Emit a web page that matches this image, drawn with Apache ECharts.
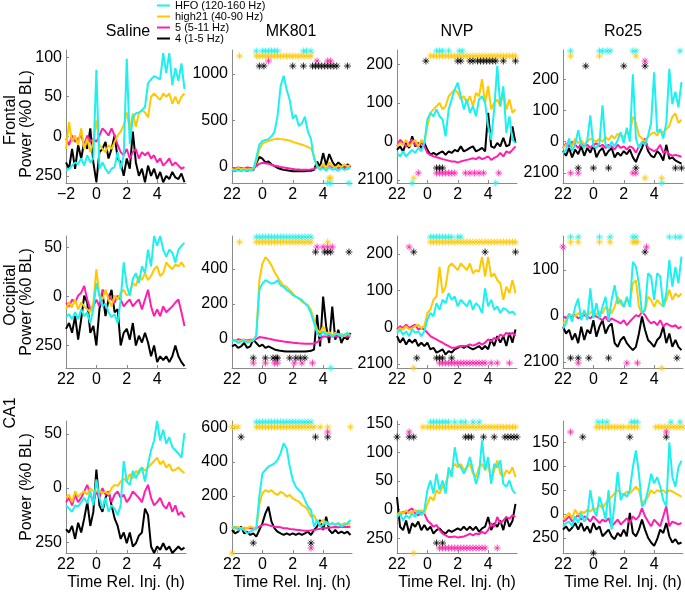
<!DOCTYPE html>
<html><head><meta charset="utf-8">
<script src="https://cdn.jsdelivr.net/npm/echarts@6/dist/echarts.min.js"></script>
<style>html,body{margin:0;padding:0;background:#fff}#c{width:685px;height:592px}</style>
</head><body><div id="c"></div>
<script>
// ---------- shared axes / labels ----------
const T = [-2,-1.8,-1.6,-1.4,-1.2,-1,-0.8,-0.6,-0.4,-0.2,0,0.2,0.4,0.6,0.8,1,1.2,1.4,1.6,1.8,2,2.2,2.4,2.6,2.8,3,3.2,3.4,3.6,3.8,4,4.2,4.4,4.6,4.8,5,5.2,5.4,5.6,5.8];
const seriesNames = ['HFO (120-160 Hz)','high21 (40-90 Hz)','5 (5-11 Hz)','4 (1-5 Hz)'];
const colTitles = ['Saline','MK801','NVP','Ro25'];
const rowNames = ['Frontal','Occipital','CA1'];
const yName = 'Power (%0 BL)';
const xName = 'Time Rel. Inj. (h)';
const xTicks = [-2,0,2,4];
const yTicksFrontal = [[-50,0,50,100],[0,500,1000],[-100,0,100,200],[-100,0,100,200]];
const yTicksOccipital = [[-50,0,50],[0,200,400],[-100,0,100,200],[-100,0,100]];
const yTicksCA1 = [[-50,0,50],[0,200,400,600],[-50,0,50,100,150],[-50,0,50,100,150]];

// ---------- Frontal ----------
const fSal_HFO = [-43,-41,-37,-33,-35,-28,-37,-24,-33,-28, 84,-41,-33,-41,-47,-41,-39,-20,-41,-24, 98,-10,24,29,30,33,37,67,72,76, 74,72,105,80,105,65,86,70,92,60];
const fSal_HI  = [-16,18,-7,1,-11,10,-16,-3,-20,-7, 20,-11,-16,-20,-11,-16,-7,1,6,14, 30,8,29,12,29,33,30,24,50,54, 50,46,54,50,54,41,50,41,50,54];
const fSal_5   = [-3,-11,1,-7,-3,1,-11,1,-7,-3, -7,1,10,6,1,10,1,-11,-20,-24, -16,-28,-20,-16,-28,-20,-24,-20,-28,-24, -33,-28,-37,-33,-28,-37,-33,-37,-41,-39];
const fSal_4   = [-33,-41,-16,-41,-11,-28,-7,-16,10,-33, -58,-20,-16,-7,-28,-16,1,-28,-33,-50, -28,-41,6,-33,-50,-41,-58,-37,-50,-41, -54,-45,-58,-50,-54,-45,-52,-54,-47,-58];
const fMK_HFO = [-30,-40,-35,-45,-30,-40,-35,-30, 100,240,280,290,300,330,380,550,870,980,830,720,520,560,440,470,540,380,300,90,10,-30,-10,-40,0,-30,-20,-40,-10,-30,-20,0];
const fMK_HI  = [-20,-30,-10,-25,-15,-30,-20,-25, 60,190,250,270,280,290,300,305,300,295,290,285,270,260,250,240,230,215,200,120,10,-10,40,-20,50,10,-10,20,0,30,10,20];
const fMK_5   = [-10,-15,-5,-10,-15,-5,-10,-15, 10,35,45,40,35,25,15,10,0,-5,-10,-15,-20,-25,-25,-30,-30,-30,-25,-20,0,-10,0,-15,10,-5,5,-10,0,-5,10,0];
const fMK_4   = [-30,-40,-25,-35,-30,-40,-30,-35, 40,110,90,50,60,30,10,-10,-20,-30,-35,-40,-45,-45,-45,-45,-45,-40,-40,-30,60,0,150,20,140,60,10,50,20,-10,30,0];
const fNVP_HFO = [-30,-39,-26,-39,-30,-22,-30,-17,-26,-4, 57,74,65,83,65,57,13,83,109,135, 152,117,83,109,74,91,65,109,117,100, 39,4,83,196,91,143,22,65,4,-4];
const fNVP_HI  = [-13,-4,-9,4,-13,-4,4,-13,4,-4, 39,74,83,91,100,83,91,117,126,135, 126,109,117,100,117,91,126,117,161,100, 143,83,100,109,91,126,83,109,74,83];
const fNVP_5   = [-13,4,-4,-13,-4,4,-9,-13,-4,-13, -30,-35,-39,-41,-43,-46,-48,-50,-52,-52, -55,-52,-50,-48,-46,-44,-46,-41,-46,-43, -39,-48,-43,-39,-30,-39,-26,-30,-22,-13];
const fNVP_4   = [-22,-13,-26,-4,-17,13,-13,-4,-17,-4, -22,-35,-30,-35,-30,-26,-35,-26,-30,-22, -26,-13,-26,-22,-17,-13,-26,-22,-17,-26, 74,-13,-17,-4,-13,9,-13,-9,39,-4];
const fRo_HFO = [-37,-26,10,-30,-10,37,-10,-20,5,84, -15,-20,-5,116,-10,-20,0,-15,5,30, -5,45,0,215,10,-20,0,-10,20,60, 222,30,40,10,60,233,120,160,110,190];
const fRo_HI  = [-20,-10,0,-15,10,-5,5,-10,0,10, 5,0,10,0,15,5,20,10,25,20, 15,30,25,80,60,20,10,0,15,25, 30,20,35,30,40,50,80,90,60,70];
const fRo_5   = [-20,-5,-15,0,-10,-20,-5,-15,-10,-20, -10,-5,-15,-10,-20,-10,-15,-25,-10,-20, -15,-25,-15,-20,-35,-15,-5,10,-20,-25, -30,-25,-10,-35,-30,-40,-45,-42,-45,-48];
const fRo_4   = [-30,-45,-20,-50,-25,-40,-15,-45,-20,-35, -10,-50,-30,-20,-45,-30,-20,-50,-35,-45, -30,-40,-25,-50,-65,-40,-20,5,-30,-45, -50,-30,-40,-60,-10,-55,-50,-60,-65,-70];

// ---------- Occipital ----------
const oSal_HFO = [-21,-18,-23,-16,-23,-13,-20,-16,-27,-13, 14,1,-10,-7,-16,-21,-18,-27,-3,35, 11,1,18,24,14,31,24,48,31,62, 52,62,48,41,48,45,35,48,52,55];
const oSal_HI  = [-13,-6,-11,-3,-13,-6,-10,-13,-16,-6, 28,1,-3,7,-3,-10,1,-3,4,7, 1,4,14,11,21,17,24,17,21,28, 31,21,24,35,31,28,33,31,35,30];
const oSal_5   = [-6,-10,-3,-6,1,4,11,-3,-13,-10, -3,-10,7,4,1,-3,-6,1,-3,-10, -6,-3,-10,-6,-3,-13,-3,7,-10,-20, -13,-20,-10,-16,-13,-10,-6,-3,-16,-30];
const oSal_4   = [-33,-27,-37,-20,-44,-23,1,-6,-37,-30, -50,-13,4,-20,-3,7,-16,-13,-50,-37, -33,-44,-27,-50,-40,-47,-37,-47,-61,-50, -67,-61,-65,-61,-67,-61,-50,-61,-67,-71];
const oMK_HFO = [-13,-8,-23,-15,-10,-20,-15,-10, 20,280,317,336,326,317,320,336,307,298,280,270,251,242,232,223,204,185,147,91,34,15,43,20,30,15,25,30,15,25,35,15];
const oMK_HI  = [-10,-5,-15,-10,-5,-15,-10,-5, 20,336,430,468,449,421,383,355,326,307,298,280,260,242,232,213,204,194,166,110,53,34,72,30,40,20,35,25,30,15,30,20];
const oMK_5   = [-4,-8,-2,-6,-4,-8,-5,-3, 0,11,8,5,2,-2,-6,-9,-12,-15,-17,-19,-21,-23,-25,-26,-27,-28,-27,-26,-19,-4,15,12,18,14,16,12,18,15,17,14];
const oMK_4   = [-42,-32,-51,-42,-23,-51,-42,-4,-23,-42, -32,-51,-42,-51,-60,-64,-68,-70,-72,-72, -72,-72,-72,-72,-72,-70,-68,-60,138,-42, 242,72,-23,185,-4,53,-23,15,-4,34];
const oNVP_HFO = [-15,-6,-20,-11,-24,-6,-15,-11,-24,-11, 21,39,30,66,48,75,66,93,75,84, 57,75,66,57,75,48,66,57,39,106, 57,75,48,57,39,52,48,39,43,34];
const oNVP_HI  = [-11,-2,-6,3,-6,-2,3,7,-2,3, 39,48,75,84,165,93,111,165,174,165, 156,174,165,156,174,147,156,152,192,138, 192,138,147,129,120,75,111,93,129,93];
const oNVP_5   = [-6,3,-2,7,-2,3,7,-6,-2,-6, -15,-24,-29,-33,-38,-42,-47,-51,-56,-56, -53,-51,-51,-50,-47,-50,-47,-42,-47,-42, -33,-38,-29,-33,-20,-24,-15,-20,-15,-24];
const oNVP_4   = [-24,-42,-29,-47,-33,-42,-33,-51,-42,-51, -42,-60,-56,-69,-65,-60,-74,-65,-69,-60, -56,-51,-56,-51,-56,-60,-56,-51,-60,-51, -60,-33,-51,-24,-42,-24,-51,-15,-42,-6];
const oRo_HFO = [-27,-16,6,-12,20,38,-9,13,-9,60, -5,28,-5,20,42,-10,35,67,27,35, 20,42,20,118,107,71,6,13,93,86, 35,93,86,20,49,122,64,107,71,129];
const oRo_HI  = [-16,-9,-1,3,-1,6,3,9,3,6, 13,3,9,6,20,13,6,20,42,27, 20,35,27,71,78,20,6,13,42,35, 20,35,27,20,35,57,35,49,42,49];
const oRo_5   = [-1,-5,2,-1,2,-5,-1,2,-1,-5, 2,-1,-5,-9,-1,-12,-5,-9,-12,-16, -9,-20,-12,-5,2,-1,9,2,-9,-16, -12,-20,-9,-23,-16,-20,-23,-20,-27,-23];
const oRo_4   = [-23,-38,-30,-52,-38,-59,-23,-52,-30,-38, -9,-45,-23,-9,-38,-23,-16,-59,-67,-52, -45,-59,-67,-74,-67,-38,-1,-30,-52,-59, -67,-52,-45,-23,-59,-38,-67,-52,-67,-74];

// ---------- CA1 ----------
const cSal_HFO = [-16,-19,-22,-16,-17,-13,-9,-14,-3,-16, 8,-9,-19,-9,-22,-16,-19,-25,-16,25, 6,3,16,9,16,19,6,22,35,44, 62,44,54,41,47,38,35,32,28,51];
const cSal_HI  = [-9,-6,-13,-3,-8,-5,-3,-6,0,-3, -3,-2,-5,-3,-6,0,3,2,6,9, 6,13,9,16,13,19,16,19,22,25, 28,22,25,19,22,16,17,19,16,14];
const cSal_5   = [-13,-9,-16,-6,-13,-9,-3,3,-6,-13, -3,-9,0,-6,-3,-13,-6,-3,-9,-6, -13,-9,-3,-6,-9,-13,-3,3,-9,-16, -13,-9,-16,-19,-13,-22,-16,-25,-22,-27];
const cSal_4   = [-38,-41,-35,-47,-32,-41,-28,-13,-35,-22, 17,-16,-22,-9,-3,-16,-28,-35,-47,-41, -51,-41,-54,-51,-44,-41,-19,-25,-54,-60, -54,-57,-51,-57,-54,-60,-57,-54,-57,-55];
const cMK_HFO = [10,20,0,10,0,-20,-10,0,10,200, 333,353,373,382,392,412,451,510,480,373, 294,255,235,216,176,137,118,20,59,20, 30,50,30,40,30,40,20,30,40,60];
const cMK_HI  = [20,10,20,10,15,10,20,15,0,150, 216,235,225,235,216,206,225,216,196,206, 186,176,167,147,137,118,78,88,49,40, 59,40,30,40,30,40,30,40,30,40];
const cMK_5   = [16,10,12,8,10,12,10,8,10,20, 29,35,29,24,20,18,16,10,10,6, 4,2,0,-2,-4,-4,-2,0,4,8, 10,12,14,16,18,16,18,20,18,20];
const cMK_4   = [0,-20,-10,20,-20,-10,-29,-20,-39,0, 39,98,137,49,10,-10,-20,-29,-20,-29, -20,-29,-20,-29,-20,-10,-29,0,20,59, 0,78,0,-20,0,-20,-10,-20,-10,-29];
const cNVP_HFO = [-13,-7,-19,-10,-15,-7,-13,-1,-10,-1, 34,51,28,63,34,51,28,74,57,109, 80,74,63,74,92,69,45,63,121,69, 92,45,80,74,86,45,40,51,34,28];
const cNVP_HI  = [-10,-4,-7,-1,-7,-4,-1,-4,-1,-7, 10,22,16,34,28,40,45,63,69,80, 74,80,69,74,80,63,57,74,80,69, 80,51,69,86,63,57,69,63,74,57];
const cNVP_5   = [-7,-10,-4,-7,-1,2,-7,-10,-4,-7, -19,-24,-30,-27,-36,-42,-45,-48,-48,-47, -49,-48,-47,-45,-42,-45,-42,-43,-39,-42, -36,-24,-30,-13,-24,-19,-13,-16,-10,-13];
const cNVP_4   = [22,-30,-36,-19,-42,-24,-30,-21,-36,-27, -36,-30,-42,-36,-33,-39,-42,-36,-39,-36, -33,-36,-30,-36,-30,-36,-30,-39,-33,-30, -13,-36,-24,-30,-19,-36,-13,-30,-20,10];
const cRo_HFO = [-26,-19,-16,-26,-5,-19,2,-16,-5,50, 10,-5,36,16,-12,50,-33,23,88,29, 43,36,50,98,133,84,16,23,50,84, 64,77,57,29,16,150,77,57,98,112];
const cRo_HI  = [-12,-5,2,-9,9,-2,5,2,9,5, 12,9,19,12,22,29,36,43,50,43, 40,47,43,50,57,50,22,29,36,50, 43,50,47,50,43,50,47,43,40,36];
const cRo_5   = [-16,-12,-5,-16,-9,-2,-12,-5,-9,-16, -5,-12,-19,-12,-16,-9,-26,-19,-12,-22, -16,-9,-19,-5,-12,-5,12,-5,-16,-26, -12,-19,-26,-5,16,-26,-16,-19,-22,-19];
const cRo_4   = [-33,-26,-36,-29,-19,-33,-19,-36,-26,-40, -19,-33,-26,-47,-40,-33,-47,-53,-40,-47, -33,-47,2,-40,-47,-33,-12,-33,-50,-60, -67,-53,-33,-40,-19,-47,-60,-53,-63,-60];

// ---------- significance asterisks (times, h) : [HFO, high21, 5, 4] ----------
const fSal_starsTop = [[],[],[],[]];
const fSal_starsBot = [[],[],[],[]];
const fMK_starsTop = [[-0.4,0,0.2,0.4,0.6,0.8,1,2.7,2.9,3.2],[-1.5,-0.4,-0.2,0,0.2,0.4,0.6,0.8,1,1.2,1.4,1.6,1.8,2,2.2,2.4,2.6,2.8,3,3.2],[0.4,3.6,4.3,4.5],[-0.2,0.1,2,2.7,3.3,3.5,3.7,3.9,4.1,4.3,4.5,4.7,4.9,5.6]];
const fMK_starsBot = [[4.3,4.5,5.7],[4.4,4.5],[],[]];
const fNVP_starsTop = [[0.6,0.8,1,1.4,2.1,2.3],[0.2,0.4,0.6,0.8,1,1.2,1.4,1.6,1.8,2,2.2,2.4,2.6,2.8,3,3.2,3.4,3.6,3.8,4,4.2,4.4,4.6,4.8,5,5.2,5.4,5.6,5.8],[],[-0.1,2,2.2,2.8,3,3.3,3.5,3.7,3.9,4.1,4.3,4.5,5,5.8]];
const fNVP_starsBot = [[-1,4.5],[-0.9],[-0.6,0.6,0.8,1,1.2,1.4,1.6,1.8,2.5,2.8,3.1,3.4,3.7,4.7],[0.6,0.8,1]];
const fRo_starsTop = [[-1.5,0.4,0.6,0.9,1.1,2.6,2.8,5.7],[-1.5,0.4,2.8],[3.4],[-0.5,2,3.4]];
const fRo_starsBot = [[4.5],[3.4,4.5],[-1.5,-1,2.6,2.8],[-1,0,1,2.8,5.4,5.8]];
const oSal_starsTop = [[],[],[],[]];
const oSal_starsBot = [[],[],[],[]];
const oMK_starsTop = [[-0.4,-0.2,0,0.2,0.4,0.6,0.8,1,1.2,1.4,1.6,1.8,2,2.2,2.4,2.6,2.8,3,3.2],[-1.5,-0.4,-0.2,0,0.2,0.4,0.6,0.8,1,1.2,1.4,1.6,1.8,2,2.2,2.4,2.6,2.8,3,3.2,4.3],[3.6,4,4.3,4.6],[3.5,4.1,4.3,4.5,5.7]];
const oMK_starsBot = [[4.5],[],[-0.6,0.2,0.8,1,2.1,2.6,3.3],[-0.6,0.2,0.7,0.9,1,1.8,2.2,2.5,2.8]];
const oNVP_starsTop = [[0.2,0.4,0.6,0.8,1,1.2,1.4,1.6,2,2.2],[0.2,0.4,0.6,0.8,1,1.2,1.4,1.6,1.8,2,2.2,2.4,2.6,2.8,3,3.2,3.4,3.6,3.8,4,4.2,4.4,4.6,4.8,5,5.2,5.4,5.6,5.8],[-1.2],[-0.9,3.8,5.8]];
const oNVP_starsBot = [[],[-0.9],[0.8,1,1.2,1.4,1.6,1.8,2,2.2,2.4,2.6,2.8,3,3.2,3.4,3.6,3.8,4.2,4.6,5.4],[-0.7,0.6,0.8,1,1.6]];
const oRo_starsTop = [[-1.5,-1,0.4,1.1,2.6,2.8,5,5.4,5.7],[-1.5,-1,0.4,1.1,2.6,2.75,2.9],[-2,3.5],[3.4]];
const oRo_starsBot = [[],[4.5],[-1,2.2,2.9],[-1.5,-1,-0.3,1,5.5]];
const cSal_starsTop = [[],[],[],[]];
const cSal_starsBot = [[],[],[],[]];
const cMK_starsTop = [[-0.4,-0.2,0,0.2,0.4,0.6,0.8,1,1.2,1.4,1.6,1.8,2,2.2,2.4,2.6,2.8,3,3.2],[-2,-1.8,-1.6,-0.4,-0.2,0,0.2,0.4,0.6,0.8,1,1.2,1.4,1.6,1.8,2,2.2,2.4,2.6,2.8,3,3.2,3.4,3.8,4.3,5.8],[4.3],[-1.4,3.5,4.3]];
const cMK_starsBot = [[],[-2],[3.2],[-0.6,3.2]];
const cNVP_starsTop = [[0.2,0.4,0.6,0.8,1,1.2,1.4,1.8,2.2,2.5,3,3.4],[-0.3,0,0.2,0.4,0.6,0.8,1,1.2,1.4,1.6,1.8,2,2.2,2.4,2.6,2.8,3,3.2,3.4,3.6,3.8,4,4.2,4.4,4.6,4.8,5,5.2,5.4,5.6,5.8],[-1.2],[-2,-1.2,-0.9,2.5,2.7,2.9,3.7,4.4,5.1,5.3,5.5,5.7,5.9]];
const cNVP_starsBot = [[],[-0.9],[0.8,1,1.2,1.4,1.6,1.8,2,2.2,2.4,2.6,2.8,3,3.2,3.4,3.6,3.8,4.6],[0.6,1]];
const cRo_starsTop = [[0.3,0.6,0.9,2.5,2.7,2.9,5.1,5.7],[0.2,0.4,0.6,0.8,1,1.2,1.4,1.6,1.8,2,2.3,2.5,2.7,2.9,4.1,4.3,4.5,4.7,4.9,5.1,5.3,5.5,5.7,5.9],[-1.5,4.8],[-0.7,2.4,4.8]];
const cRo_starsBot = [[],[],[],[0]];

// ---------- layout / style ----------
const FONT = '"Liberation Sans", Arial, Helvetica, sans-serif';
const colors = ['#1cf0f0','#ffc800','#ff1fae','#000000'];
const lefts = [66, 232, 397, 563];
const tops = [50, 236, 421];
const heights = [133, 132, 132];
const W = 120;
const yRanges = [
  [[-59,109],[-171,1257],[-108,237],[-132,293]],
  [[-73,62],[-166,589],[-111,249],[-113,174]],
  [[-60,62],[-135,641],[-76,155],[-82,195]]
];
const yTicks = [yTicksFrontal, yTicksOccipital, yTicksCA1];
const panelData = [
  [[fSal_HFO,fSal_HI,fSal_5,fSal_4],[fMK_HFO,fMK_HI,fMK_5,fMK_4],[fNVP_HFO,fNVP_HI,fNVP_5,fNVP_4],[fRo_HFO,fRo_HI,fRo_5,fRo_4]],
  [[oSal_HFO,oSal_HI,oSal_5,oSal_4],[oMK_HFO,oMK_HI,oMK_5,oMK_4],[oNVP_HFO,oNVP_HI,oNVP_5,oNVP_4],[oRo_HFO,oRo_HI,oRo_5,oRo_4]],
  [[cSal_HFO,cSal_HI,cSal_5,cSal_4],[cMK_HFO,cMK_HI,cMK_5,cMK_4],[cNVP_HFO,cNVP_HI,cNVP_5,cNVP_4],[cRo_HFO,cRo_HI,cRo_5,cRo_4]]
];
const panelStars = [
  [[fSal_starsTop,fSal_starsBot],[fMK_starsTop,fMK_starsBot],[fNVP_starsTop,fNVP_starsBot],[fRo_starsTop,fRo_starsBot]],
  [[oSal_starsTop,oSal_starsBot],[oMK_starsTop,oMK_starsBot],[oNVP_starsTop,oNVP_starsBot],[oRo_starsTop,oRo_starsBot]],
  [[cSal_starsTop,cSal_starsBot],[cMK_starsTop,cMK_starsBot],[cNVP_starsTop,cNVP_starsBot],[cRo_starsTop,cRo_starsBot]]
];
const STAR = 'path://M5,0L5,10M0,5L10,5M1.6,1.6L8.4,8.4M1.6,8.4L8.4,1.6';
const negFmt = v => (v < 0 ? '2' + (-v) : String(v));

const grids = [], xAxes = [], yAxes = [], series = [];
for (let r = 0; r < 3; r++) {
  for (let c = 0; c < 4; c++) {
    const idx = r * 4 + c;
    const H = heights[r];
    const [ymin, ymax] = yRanges[r][c];
    grids.push({left: lefts[c], top: tops[r], width: W, height: H});
    const xa = {
      gridIndex: idx, type: 'value', min: -2, max: 5.9,
      axisLine: {show: true, onZero: false, lineStyle: {color: '#8a8a8a', width: 1}},
      axisTick: {show: true, inside: true, length: 3, customValues: xTicks, lineStyle: {color: '#8a8a8a'}},
      axisLabel: {customValues: xTicks, fontSize: 16, color: '#000', fontFamily: FONT, margin: 4,
        formatter: (r === 0 && c === 0) ? (v => v < 0 ? '\u2212' + (-v) : String(v)) : negFmt},
      splitLine: {show: false}
    };
    if (r === 2) {
      xa.name = xName; xa.nameLocation = 'middle'; xa.nameGap = 22;
      xa.nameTextStyle = {fontSize: 16, color: '#000', fontFamily: FONT};
    }
    xAxes.push(xa);
    yAxes.push({
      gridIndex: idx, type: 'value', min: ymin, max: ymax,
      axisLine: {show: true, onZero: false, lineStyle: {color: '#8a8a8a', width: 1}},
      axisTick: {show: true, inside: true, length: 3, customValues: yTicks[r][c], lineStyle: {color: '#8a8a8a'}},
      axisLabel: {customValues: yTicks[r][c], fontSize: 16, color: '#000', fontFamily: FONT, margin: 4, formatter: negFmt},
      splitLine: {show: false}
    });
    const lines = panelData[r][c];
    [3, 2, 1, 0].forEach(s => {
      series.push({
        type: 'line', name: seriesNames[s], xAxisIndex: idx, yAxisIndex: idx,
        data: T.map((t, i) => [t, lines[s][i]]),
        symbol: 'none', showSymbol: false, animation: false, silent: true,
        lineStyle: {color: colors[s], width: 2}, itemStyle: {color: colors[s]}, z: 2
      });
    });
    const [topL, botL] = panelStars[r][c];
    [[topL, true], [botL, false]].forEach(([lists, isTop]) => {
      let level = 0;
      for (let s = 0; s < 4; s++) {
        if (!lists[s].length) continue;
        const off = isTop ? (1 + 5 * level) : (5 * level);
        const yv = isTop ? ymax - off / H * (ymax - ymin) : ymin + off / H * (ymax - ymin);
        series.push({
          type: 'scatter', xAxisIndex: idx, yAxisIndex: idx,
          data: lists[s].map(t => [t, yv]),
          symbol: STAR, symbolSize: 7, clip: false, silent: true, animation: false,
          itemStyle: {color: 'none', borderColor: colors[s], borderWidth: 1}, z: 5
        });
        level++;
      }
    });
  }
}

const txt = (text, x, y, rot) => ({
  type: 'text', x: x, y: y, rotation: rot || 0, silent: true,
  style: {text: text, font: '16px ' + FONT, fill: '#000', textAlign: 'center', textVerticalAlign: 'middle', align: 'center', verticalAlign: 'middle'}
});
const titleX = [128, 291, 457, 623];
const graphics = [];
colTitles.forEach((t, i) => graphics.push(txt(t, titleX[i], 32)));
const rowNameY = [120, 295, 413];
const powerY = [124, 302, 487];
rowNames.forEach((n, i) => {
  graphics.push(txt(n, 11, rowNameY[i], Math.PI / 2));
  graphics.push(txt(yName, 27, powerY[i], Math.PI / 2));
});

const chart = echarts.init(document.getElementById('c'), null, {renderer: 'canvas'});
chart.setOption({
  animation: false,
  backgroundColor: '#fff',
  legend: {
    data: seriesNames, orient: 'vertical', left: 157, top: 0, padding: 0,
    itemWidth: 13, itemHeight: 2, itemGap: 0, icon: 'rect',
    textStyle: {fontSize: 11, lineHeight: 11, color: '#000', fontFamily: FONT}
  },
  grid: grids, xAxis: xAxes, yAxis: yAxes, series: series, graphic: graphics
});
</script></body></html>
